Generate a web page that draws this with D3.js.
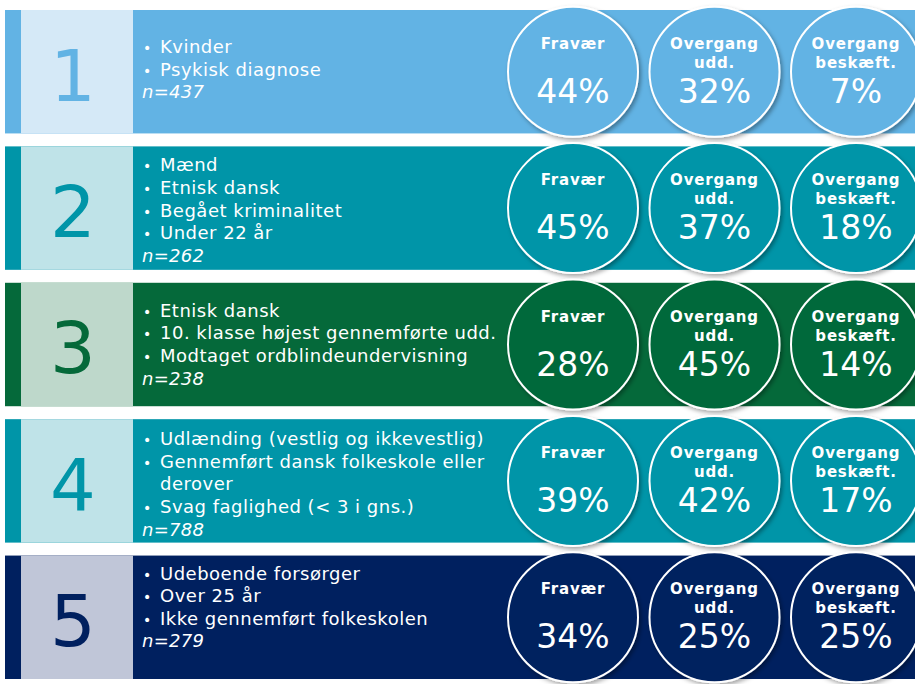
<!DOCTYPE html>
<html>
<head>
<meta charset="utf-8">
<script src="https://cdn.jsdelivr.net/npm/d3@7"></script>
<style>
  body { margin: 0; background: #fff; }
  svg { display: block; font-family: "DejaVu Sans", Verdana, sans-serif; }
</style>
</head>
<body>
<svg width="915" height="684"></svg>
<script>
// cluster data
var clusters = ['1', '2', '3', '4', '5'];
var bullets = [
  ['Kvinder', 'Psykisk diagnose'],
  ['Mænd', 'Etnisk dansk', 'Begået kriminalitet', 'Under 22 år'],
  ['Etnisk dansk', '10. klasse højest gennemførte udd.', 'Modtaget ordblindeundervisning'],
  ['Udlænding (vestlig og ikkevestlig)', 'Gennemført dansk folkeskole eller\nderover', 'Svag faglighed (< 3 i gns.)'],
  ['Udeboende forsørger', 'Over 25 år', 'Ikke gennemført folkeskolen']
];
var nValues = [437, 262, 238, 788, 279];
var metrics = ['Fravær', 'Overgang\nudd.', 'Overgang\nbeskæft.'];
var fravaer = [44, 45, 28, 39, 34];
var overgangUdd = [32, 37, 45, 42, 25];
var overgangBeskaeft = [7, 18, 14, 17, 25];
var mainColors = ['#62b3e4', '#0095a8', '#05693a', '#0095a8', '#00205f'];
var lightColors = ['#d5e9f7', '#bfe3e8', '#bed8cb', '#bfe3e8', '#c0c6d8'];

// layout tuning: first text baseline offset inside each row
var textTop = [43, 25, 34, 26, 24];

var svg = d3.select('svg'),
  width = +svg.attr('width'),
  height = +svg.attr('height');

var y = d3.scaleBand().domain(clusters).range([10, 679]).paddingInner(0.095);
var x = d3.scalePoint().domain(metrics).range([573, 856]);

var defs = svg.append('defs');
defs.append('filter')
  .attr('id', 'shadow')
  .attr('x', '-20%').attr('y', '-20%')
  .attr('width', '140%').attr('height', '140%')
  .append('feDropShadow')
  .attr('dx', 2).attr('dy', 2.5)
  .attr('stdDeviation', 2)
  .attr('flood-color', '#000')
  .attr('flood-opacity', 0.35);

var rows = svg.selectAll('g.row')
  .data(clusters.map(function(c, i) {
    return {
      id: c,
      bullets: bullets[i],
      n: nValues[i],
      values: [fravaer[i], overgangUdd[i], overgangBeskaeft[i]],
      main: mainColors[i],
      light: lightColors[i],
      top: textTop[i]
    };
  }))
  .enter()
  .append('g')
  .attr('class', 'row')
  .attr('transform', function(d) { return 'translate(0,' + y(d.id) + ')'; });

var bh = y.bandwidth();

rows.append('rect')
  .attr('x', 5).attr('width', width - 5)
  .attr('height', bh)
  .attr('fill', function(d) { return d.main; });

rows.append('rect')
  .attr('x', 21).attr('width', 112)
  .attr('height', bh)
  .attr('fill', function(d) { return d.light; });

rows.append('text')
  .attr('x', 73)
  .attr('y', bh / 2 + 29)
  .attr('text-anchor', 'middle')
  .attr('font-size', 72)
  .attr('fill', function(d) { return d.main; })
  .text(function(d) { return d.id; });

// bullet lists
rows.each(function(d) {
  var g = d3.select(this);
  var lines = [];
  d.bullets.forEach(function(b) {
    b.split('\n').forEach(function(part, k) {
      lines.push({ text: part, bullet: k === 0 });
    });
  });
  var t = g.append('g').attr('fill', '#fff').attr('font-size', 18);
  lines.forEach(function(l, k) {
    var yy = d.top + k * 22.6;
    if (l.bullet) {
      t.append('text').attr('x', 143).attr('y', yy)
        .attr('font-size', 14).text('•');
    }
    t.append('text').attr('x', 160).attr('y', yy)
      .attr('letter-spacing', 0.5)
      .text(l.text);
  });
  t.append('text')
    .attr('x', 142)
    .attr('y', d.top + lines.length * 22.6)
    .attr('font-style', 'italic')
    .attr('letter-spacing', 0.3)
    .text('n=' + d.n);
});

// metric circles
var circles = rows.selectAll('g.metric')
  .data(function(d) {
    return metrics.map(function(m, j) {
      return { label: m, value: d.values[j], color: d.main };
    });
  })
  .enter()
  .append('g')
  .attr('class', 'metric')
  .attr('transform', function(d) { return 'translate(' + x(d.label) + ',' + bh / 2 + ')'; });

circles.append('circle')
  .attr('r', 65)
  .attr('fill', function(d) { return d.color; })
  .attr('stroke', '#fff')
  .attr('stroke-width', 2)
  .attr('filter', 'url(#shadow)');

circles.each(function(d) {
  var g = d3.select(this);
  d.label.split('\n').forEach(function(part, k) {
    g.append('text')
      .attr('y', -23 + k * 19)
      .attr('text-anchor', 'middle')
      .attr('fill', '#fff')
      .attr('font-size', 15)
      .attr('font-weight', 'bold')
      .attr('letter-spacing', 0.8)
      .text(part);
  });
});

circles.append('text')
  .attr('y', 31)
  .attr('text-anchor', 'middle')
  .attr('fill', '#fff')
  .attr('font-size', 33)
  .text(function(d) { return d.value + '%'; });
</script>
</body>
</html>
